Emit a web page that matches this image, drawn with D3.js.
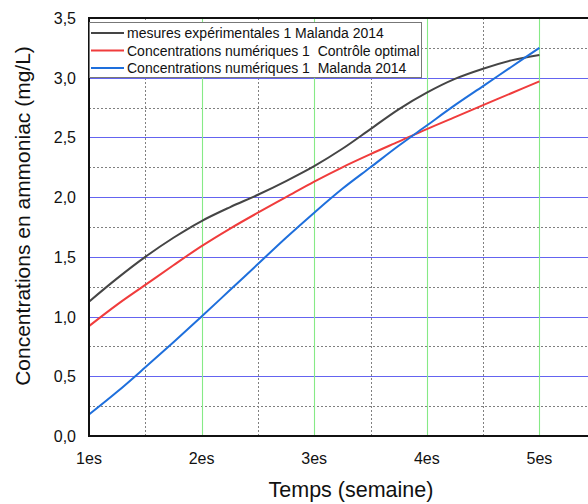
<!DOCTYPE html>
<html lang="fr">
<head>
<meta charset="UTF-8">
<title>Concentrations en ammoniac</title>
<script src="https://d3js.org/d3.v7.min.js"></script>
<style>
  body { margin: 0; background: #fff; font-family: "Liberation Sans", Arial, sans-serif; }
  text { white-space: pre; }
</style>
</head>
<body>
<div id="chart"></div>
<script>
// semaines
const weeks = [1, 1.25, 1.5, 1.75, 2, 2.25, 2.5, 2.75, 3, 3.25, 3.5, 3.75, 4, 4.25, 4.5, 4.75, 5];
const mesures = [1.125, 1.32, 1.50, 1.66, 1.80, 1.915, 2.02, 2.135, 2.26, 2.405, 2.57, 2.735, 2.875, 2.99, 3.075, 3.145, 3.19];
const controle = [0.92, 1.10, 1.265, 1.43, 1.59, 1.735, 1.87, 2.00, 2.13, 2.25, 2.36, 2.465, 2.57, 2.67, 2.77, 2.87, 2.97];
const malanda = [0.18, 0.37, 0.575, 0.785, 1.0, 1.22, 1.44, 1.66, 1.87, 2.07, 2.25, 2.43, 2.6, 2.77, 2.93, 3.09, 3.25];
const xTicks = [1, 2, 3, 4, 5];
const xTickLabels = ["1es", "2es", "3es", "4es", "5es"];
const yTicks = [0, 0.5, 1, 1.5, 2, 2.5, 3, 3.5];
const seriesNames = [
  "mesures expérimentales 1 Malanda 2014",
  "Concentrations numériques 1  Contrôle optimal",
  "Concentrations numériques 1  Malanda 2014"
];
const seriesColors = ["#454545", "#f03c3c", "#1e6fdc"];

const width = 588, height = 504;
const margin = { left: 89, top: 18, bottom: 68 };

const svg = d3.select("#chart").append("svg")
  .attr("width", width)
  .attr("height", height);

const x = d3.scaleLinear().domain([1, 5.5]).range([margin.left, margin.left + 4.5 * 112.6]);
const y = d3.scaleLinear().domain([0, 3.5]).range([height - margin.bottom, margin.top]);

const right = x(5.5);
const px = v => Math.round(v) + 0.5;

// minor grid (dotted)
const g = svg.append("g");
[0.25, 0.75, 1.25, 1.75, 2.25, 2.75, 3.25].forEach(v => {
  g.append("line")
    .attr("x1", x(1)).attr("x2", right)
    .attr("y1", px(y(v))).attr("y2", px(y(v)))
    .attr("stroke", "#808080").attr("stroke-dasharray", "2,2");
});
[1.5, 2.5, 3.5, 4.5].forEach(v => {
  g.append("line")
    .attr("x1", px(x(v))).attr("x2", px(x(v)))
    .attr("y1", y(0)).attr("y2", y(3.5))
    .attr("stroke", "#808080").attr("stroke-dasharray", "2,2");
});
// major grid
[0.5, 1, 1.5, 2, 2.5, 3].forEach(v => {
  g.append("line")
    .attr("x1", x(1)).attr("x2", right)
    .attr("y1", px(y(v))).attr("y2", px(y(v)))
    .attr("stroke", "#6464f0").attr("stroke-width", 1.1);
});
[2, 3, 4, 5].forEach(v => {
  g.append("line")
    .attr("x1", px(x(v))).attr("x2", px(x(v)))
    .attr("y1", y(0)).attr("y2", y(3.5))
    .attr("stroke", "#86ea86").attr("stroke-width", 1.1);
});

// courbes
const line = d3.line()
  .x((d, i) => x(weeks[i]))
  .y(d => y(d))
  .curve(d3.curveCatmullRom);

[mesures, controle, malanda].forEach((s, i) => {
  svg.append("path")
    .datum(s)
    .attr("d", line)
    .attr("fill", "none")
    .attr("stroke", seriesColors[i])
    .attr("stroke-width", 2);
});

// axes frame
svg.append("line").attr("x1", x(1)).attr("x2", right)
  .attr("y1", y(0)).attr("y2", y(0)).attr("stroke", "#111").attr("stroke-width", 2);
svg.append("line").attr("x1", x(1)).attr("x2", right)
  .attr("y1", y(3.5)).attr("y2", y(3.5)).attr("stroke", "#111").attr("stroke-width", 2);
svg.append("line").attr("x1", x(1)).attr("x2", x(1))
  .attr("y1", y(0) + 1).attr("y2", y(3.5) - 1).attr("stroke", "#111").attr("stroke-width", 2);

// tick labels
svg.selectAll(".ylab").data(yTicks).enter().append("text")
  .attr("x", 76).attr("y", d => y(d) + 6)
  .attr("text-anchor", "end").attr("font-size", 16).attr("fill", "#111")
  .text(d => d3.format(".1f")(d).replace(".", ","));

svg.selectAll(".xlab").data(xTicks).enter().append("text")
  .attr("x", d => x(d)).attr("y", y(0) + 28)
  .attr("text-anchor", "middle").attr("font-size", 16).attr("fill", "#111")
  .text((d, i) => xTickLabels[i]);

// axis titles
svg.append("text")
  .attr("x", 351).attr("y", 497)
  .attr("text-anchor", "middle").attr("font-size", 21.5).attr("fill", "#111")
  .text("Temps (semaine)");
svg.append("text")
  .attr("transform", "translate(30,216) rotate(-90)")
  .attr("text-anchor", "middle").attr("font-size", 21).attr("fill", "#111")
  .text("Concentrations en ammoniac (mg/L)");

// legend
const leg = svg.append("g");
leg.append("rect")
  .attr("x", x(1) + 0.5).attr("y", 22.5).attr("width", 332).attr("height", 55)
  .attr("fill", "#fff").attr("stroke", "#777");
seriesNames.forEach((name, i) => {
  const ly = 33 + i * 17.5;
  leg.append("line")
    .attr("x1", 91).attr("x2", 124).attr("y1", ly).attr("y2", ly)
    .attr("stroke", seriesColors[i]).attr("stroke-width", 2);
  leg.append("text")
    .attr("x", 127).attr("y", ly + 5)
    .attr("font-size", 14).attr("fill", "#111")
    .text(name);
});
</script>
</body>
</html>
